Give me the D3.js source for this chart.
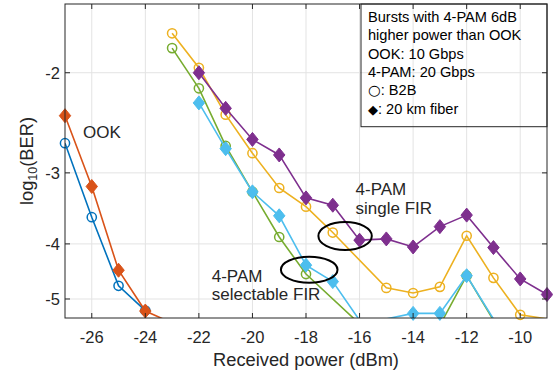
<!DOCTYPE html>
<html>
<head>
<meta charset="utf-8">
<script src="https://cdn.jsdelivr.net/npm/d3@7"></script>
<style>
  body { margin: 0; background: #fff; }
  svg { display: block; font-family: 'Liberation Sans', Arial, sans-serif; }
</style>
</head>
<body>
<div id="chart"></div>
<script>
// received power (dBm)
const powerOOK = [-27, -26, -25, -24, -23];
const powerPAM = [-23, -22, -21, -20, -19, -18, -17, -16, -15, -14, -13, -12, -11, -10, -9];

// log10(BER), null = no point
const berOOKB2B = [-2.66, -3.59, -4.74, -5.24, null];
const berOOKFiber = [-2.38, -3.17, -4.45, -5.25, -5.51];
const berSingleB2B = [-1.705, -1.96, -2.37, -2.77, -3.19, -3.44, -3.82, null, -4.78, -4.88, -4.76, -3.87, -4.59, -5.33, -5.42];
const berSingleFiber = [null, -2.0, -2.31, -2.62, -2.79, -3.32, -3.42, -3.94, -3.92, -4.05, -3.73, -3.56, -4.06, -4.61, -4.91];
const berSelectB2B = [-1.81, -2.13, -2.69, -3.24, -3.89, -4.52, null, -5.53, -5.6, -5.6, -5.56, -4.55, -5.45, null, null];
const berSelectFiber = [null, -2.26, -2.72, -3.24, -3.57, -4.36, -4.66, -5.45, -5.42, -5.3, -5.3, -4.55, -5.42, null, null];

const xTicks = [-26, -24, -22, -20, -18, -16, -14, -12, -10];
const yTicks = [-2, -3, -4, -5];

const legendLines = [
  ['', 'Bursts with 4-PAM 6dB'],
  ['', 'higher power than OOK'],
  ['', 'OOK: 10 Gbps'],
  ['', '4-PAM: 20 Gbps'],
  ['\u25CB', ': B2B'],
  ['\u25C6', ': 20 km fiber'],
];

const series = [
  { x: powerOOK, y: berOOKB2B, color: '#0072BD', marker: 'circle' },
  { x: powerOOK, y: berOOKFiber, color: '#D95319', marker: 'diamond' },
  { x: powerPAM, y: berSingleB2B, color: '#EDB120', marker: 'circle' },
  { x: powerPAM, y: berSingleFiber, color: '#7E2F8E', marker: 'diamond' },
  { x: powerPAM, y: berSelectB2B, color: '#77AC30', marker: 'circle' },
  { x: powerPAM, y: berSelectFiber, color: '#4DBEEE', marker: 'diamond' },
];

const width = 553;
const height = 376;
const plot = { left: 65, right: 547, top: 4, bottom: 318 };
const axisColor = '#262626';

const svg = d3
  .select('#chart')
  .append('svg')
  .attr('width', width)
  .attr('height', height);

const x = d3.scaleLinear().domain([-27, -9]).range([plot.left, plot.right]);
// the y axis is logarithmic in -log10(BER)
const yLog = d3.scaleLog().domain([1.514, 5.4]).range([plot.top, plot.bottom]);
const y = (v) => yLog(-v);

// grid
svg
  .append('g')
  .selectAll('line')
  .data(xTicks)
  .join('line')
  .attr('x1', (d) => x(d))
  .attr('x2', (d) => x(d))
  .attr('y1', plot.top)
  .attr('y2', plot.bottom)
  .attr('stroke', '#e3e3e3')
  .attr('stroke-width', 1);

svg
  .append('g')
  .selectAll('line')
  .data(yTicks)
  .join('line')
  .attr('x1', plot.left)
  .attr('x2', plot.right)
  .attr('y1', (d) => y(d))
  .attr('y2', (d) => y(d))
  .attr('stroke', '#e3e3e3')
  .attr('stroke-width', 1);

svg
  .append('clipPath')
  .attr('id', 'plot-clip')
  .append('rect')
  .attr('x', plot.left)
  .attr('y', plot.top)
  .attr('width', plot.right - plot.left)
  .attr('height', plot.bottom - plot.top);

const line = d3
  .line()
  .x((d) => x(d[0]))
  .y((d) => y(d[1]));

const diamond = 'M0,-7L5.7,0L0,7L-5.7,0Z';

series.forEach((s) => {
  const pts = s.x.map((p, i) => [p, s.y[i]]).filter((d) => d[1] != null);

  svg
    .append('path')
    .attr('clip-path', 'url(#plot-clip)')
    .attr('d', line(pts))
    .attr('fill', 'none')
    .attr('stroke', s.color)
    .attr('stroke-width', 1.6);

  // markers are only drawn when the point lies inside the axes
  const visible = pts.filter((d) => -d[1] >= 1.514 && -d[1] <= 5.4);
  const g = svg.append('g');
  if (s.marker === 'circle') {
    g.selectAll('circle')
      .data(visible)
      .join('circle')
      .attr('cx', (d) => x(d[0]))
      .attr('cy', (d) => y(d[1]))
      .attr('r', 4.6)
      .attr('fill', 'none')
      .attr('stroke', s.color)
      .attr('stroke-width', 1.5);
  } else {
    g.selectAll('path')
      .data(visible)
      .join('path')
      .attr('transform', (d) => `translate(${x(d[0])},${y(d[1])})`)
      .attr('d', diamond)
      .attr('fill', s.color)
      .attr('stroke', s.color)
      .attr('stroke-width', 1);
  }
});

// axes box
svg
  .append('rect')
  .attr('x', plot.left)
  .attr('y', plot.top)
  .attr('width', plot.right - plot.left)
  .attr('height', plot.bottom - plot.top)
  .attr('fill', 'none')
  .attr('stroke', axisColor)
  .attr('stroke-width', 1);

// inward ticks on all four sides
const tickLen = 5;
const ticks = svg.append('g').attr('stroke', axisColor).attr('stroke-width', 1);
xTicks.forEach((t) => {
  ticks.append('line').attr('x1', x(t)).attr('x2', x(t)).attr('y1', plot.bottom).attr('y2', plot.bottom - tickLen);
  ticks.append('line').attr('x1', x(t)).attr('x2', x(t)).attr('y1', plot.top).attr('y2', plot.top + tickLen);
});
yTicks.forEach((t) => {
  ticks.append('line').attr('x1', plot.left).attr('x2', plot.left + tickLen).attr('y1', y(t)).attr('y2', y(t));
  ticks.append('line').attr('x1', plot.right).attr('x2', plot.right - tickLen).attr('y1', y(t)).attr('y2', y(t));
});

// tick labels
svg
  .append('g')
  .selectAll('text')
  .data(xTicks)
  .join('text')
  .attr('x', (d) => x(d))
  .attr('y', 343)
  .attr('text-anchor', 'middle')
  .attr('font-size', 16.5)
  .attr('fill', axisColor)
  .text((d) => d);

svg
  .append('g')
  .selectAll('text')
  .data(yTicks)
  .join('text')
  .attr('x', 60)
  .attr('y', (d) => y(d))
  .attr('dy', '0.36em')
  .attr('text-anchor', 'end')
  .attr('font-size', 16.5)
  .attr('fill', axisColor)
  .text((d) => d);

// axis labels
svg
  .append('text')
  .attr('x', (plot.left + plot.right) / 2)
  .attr('y', 366)
  .attr('text-anchor', 'middle')
  .attr('font-size', 18.3)
  .attr('fill', axisColor)
  .text('Received power (dBm)');

const yLabel = svg
  .append('text')
  .attr('transform', `translate(32.5,${(plot.top + plot.bottom) / 2}) rotate(-90)`)
  .attr('text-anchor', 'middle')
  .attr('font-size', 18.3)
  .attr('fill', axisColor);
yLabel.append('tspan').text('log');
yLabel.append('tspan').attr('font-size', 12.5).attr('dy', 4).text('10');
yLabel.append('tspan').attr('dy', -4).text('(BER)');

// legend box (text only, no fill)
const legend = svg.append('g');
legend
  .append('rect')
  .attr('x', 361)
  .attr('y', plot.top)
  .attr('width', plot.right - 361)
  .attr('height', 122.7)
  .attr('fill', 'none')
  .attr('stroke', axisColor)
  .attr('stroke-width', 1);
const legendText = legend
  .selectAll('text')
  .data(legendLines)
  .join('text')
  .attr('x', 368)
  .attr('y', (d, i) => 22 + i * 18.35)
  .attr('font-size', 14.6)
  .attr('fill', '#000');
legendText
  .append('tspan')
  .attr('font-family', "'DejaVu Sans', sans-serif")
  .attr('font-size', (d) => (d[0] === '\u25C6' ? 13 : 14.6))
  .text((d) => d[0]);
legendText.append('tspan').text((d) => d[1]);

// annotations
const note = svg.append('g').attr('font-size', 17).attr('fill', axisColor);
note.append('text').attr('x', x(-26.33)).attr('y', y(-2.605)).text('OOK');

const single = note.append('text').attr('x', x(-16.15)).attr('y', y(-3.282));
single.append('tspan').text('4-PAM');
single.append('tspan').attr('x', x(-16.15)).attr('dy', 18.5).text('single FIR');

const select = note.append('text').attr('x', x(-21.52)).attr('y', y(-4.66));
select.append('tspan').text('4-PAM');
select.append('tspan').attr('x', x(-21.52)).attr('dy', 18.3).text('selectable FIR');

// ellipses marking the curve groups
const rings = [
  { cx: -16.54, cy: -3.875, rx: 26.7, ry: 14 },
  { cx: -17.88, cy: -4.44, rx: 28.3, ry: 13 },
];
svg
  .append('g')
  .selectAll('ellipse')
  .data(rings)
  .join('ellipse')
  .attr('cx', (d) => x(d.cx))
  .attr('cy', (d) => y(d.cy))
  .attr('rx', (d) => d.rx)
  .attr('ry', (d) => d.ry)
  .attr('fill', 'none')
  .attr('stroke', '#000')
  .attr('stroke-width', 2);
</script>
</body>
</html>
